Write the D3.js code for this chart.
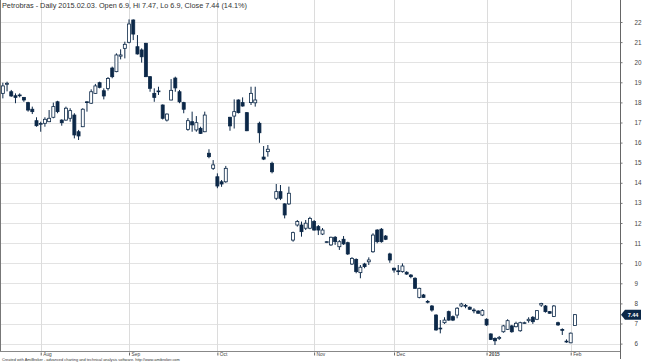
<!DOCTYPE html>
<html>
<head>
<meta charset="utf-8">
<title>Petrobras - Daily</title>
<script src="https://cdn.jsdelivr.net/npm/d3@7"></script>
<style>
  html, body { margin: 0; padding: 0; background: #fff; }
  svg { display: block; font-family: "Liberation Sans", Arial, sans-serif; }
</style>
</head>
<body>
<div id="chart"></div>
<script>
// trading days, by month
var tradingDays = [
  ["2014-07", [21,22,23,24,25,28,29,30,31]],
  ["2014-08", [1,4,5,6,7,8,11,12,13,14,15,18,19,20,21,22,25,26,27,28,29]],
  ["2014-09", [2,3,4,5,8,9,10,11,12,15,16,17,18,19,22,23,24,25,26,29,30]],
  ["2014-10", [1,2,3,6,7,8,9,10,13,14,15,16,17,20,21,22,23,24,27,28,29,30,31]],
  ["2014-11", [3,4,5,6,7,10,11,12,13,14,17,18,19,20,21,24,25,26,28]],
  ["2014-12", [1,2,3,4,5,8,9,10,11,12,15,16,17,18,19,22,23,24,26,29,30,31]],
  ["2015-01", [2,5,6,7,8,9,12,13,14,15,16,20,21,22,23,26,27,28,29,30]],
  ["2015-02", [2,3]]
];

var open = [18.45,18.90,18.53,18.33,18.37,18.25,17.99,17.66,17.09,16.93,
  16.96,17.04,17.26,18.03,17.12,17.12,17.21,17.37,16.54,16.79,
  17.99,17.96,18.45,18.98,18.58,18.69,19.71,19.53,20.30,20.69,
  20.99,22.10,20.77,20.61,20.94,19.28,18.45,18.55,17.87,17.12,
  18.12,19.21,18.53,17.99,16.66,17.04,16.63,16.71,16.54,15.47,
  14.72,14.30,14.05,14.05,17.26,17.32,18.12,17.99,17.49,17.99,
  17.98,16.96,15.28,15.55,14.97,13.23,13.56,12.95,12.95,11.15,
  11.90,11.90,11.74,11.74,12.07,11.82,11.45,11.05,10.91,11.29,
  10.82,11.19,11.02,9.96,10.19,9.53,9.96,10.07,10.57,11.65,
  11.69,11.35,10.46,9.75,9.62,9.58,9.55,9.41,9.25,8.30,
  8.42,8.10,7.87,7.42,6.74,7.04,7.59,7.34,7.42,7.87,
  7.90,7.81,7.66,7.62,7.42,7.21,6.48,6.26,6.26,6.59,
  6.71,6.88,6.84,6.64,7.03,7.14,7.31,7.21,7.92,7.87,
  7.59,7.35,7.04,6.70,6.10,6.04,6.90];
var high = [18.98,19.03,18.62,18.45,18.45,18.27,18.03,17.79,17.26,17.04,
  17.26,17.62,17.99,18.08,17.16,17.79,17.71,17.46,16.63,17.71,
  18.07,18.65,18.92,19.03,18.70,19.26,19.78,20.44,20.64,21.02,
  22.13,22.13,21.35,20.69,20.96,19.30,18.70,18.78,17.90,17.45,
  19.16,19.28,18.62,18.03,17.22,17.54,17.32,16.79,17.54,15.67,
  15.13,14.47,14.14,14.84,17.28,18.15,18.15,18.25,17.52,18.78,
  18.78,17.04,15.83,15.88,15.05,13.94,13.89,12.98,13.81,11.57,
  12.15,12.07,12.15,12.31,12.15,11.90,11.75,11.10,11.32,11.35,
  11.15,11.35,11.07,10.30,10.24,9.91,10.02,10.29,11.49,11.69,
  11.75,11.40,10.52,9.78,9.91,9.99,9.60,9.46,9.30,8.78,
  8.47,8.17,7.92,7.46,7.17,7.31,7.64,7.40,7.81,8.03,
  7.97,7.85,7.76,7.66,7.71,7.26,6.51,6.31,6.38,6.93,
  7.21,6.93,7.09,7.09,7.09,7.31,7.37,7.67,8.03,7.92,
  7.62,7.92,7.09,6.76,6.21,6.55,7.47];
var low = [18.20,18.55,18.28,17.96,18.25,18.03,17.54,17.42,16.79,16.54,
  16.79,17.02,17.21,17.46,16.84,17.09,17.04,16.21,16.13,16.77,
  17.54,17.92,18.43,18.70,18.15,18.59,19.20,19.50,20.14,20.19,
  20.94,21.10,20.38,19.98,19.26,18.53,18.03,18.37,17.15,17.05,
  18.10,18.53,17.96,17.46,16.59,16.54,16.54,16.43,16.52,15.22,
  14.64,13.73,13.80,14.00,16.59,16.70,17.45,17.79,16.57,17.87,
  17.79,15.99,15.13,15.30,14.47,13.14,13.14,12.23,12.90,11.07,
  11.82,11.32,11.65,11.69,11.62,11.40,11.40,11.00,10.86,10.91,
  10.66,10.91,10.41,9.91,9.50,9.25,9.75,9.91,10.52,10.99,
  11.02,11.15,10.02,9.53,9.41,9.53,9.42,9.25,8.72,8.25,
  8.28,8.00,7.59,6.64,6.51,6.98,7.14,7.12,7.26,7.81,
  7.76,7.68,7.51,7.49,7.37,6.88,6.18,5.93,6.18,6.54,
  6.68,6.54,6.81,6.59,6.98,7.04,6.98,7.17,7.83,7.54,
  7.49,7.32,6.88,6.43,6.04,6.02,6.90];
var close = [18.82,18.95,18.32,18.25,18.35,18.12,17.62,17.54,16.84,16.95,
  17.16,17.21,17.79,17.54,16.99,17.71,17.59,16.38,16.33,17.66,
  18.03,18.53,18.82,18.75,18.32,19.19,19.28,20.36,20.36,20.89,
  21.90,21.40,20.41,20.27,19.28,18.70,18.25,18.57,17.21,17.42,
  18.60,18.72,18.03,17.66,17.09,16.88,16.99,16.46,17.37,15.30,
  14.89,13.84,13.94,14.72,16.83,17.54,17.49,17.82,16.59,18.45,
  18.12,16.49,15.18,15.67,14.55,13.56,13.23,12.40,13.48,11.52,
  12.07,11.57,11.99,12.23,11.65,11.65,11.65,11.07,11.29,11.07,
  11.07,10.96,10.46,10.24,9.58,9.80,9.83,10.16,11.40,11.07,
  11.07,11.19,10.16,9.66,9.60,9.86,9.46,9.33,8.75,8.75,
  8.30,8.08,7.67,6.68,6.77,7.17,7.17,7.17,7.76,7.97,
  7.87,7.71,7.67,7.51,7.64,6.93,6.21,6.14,6.31,6.88,
  7.14,6.59,7.01,7.04,7.04,7.21,7.09,7.64,8.00,7.59,
  7.51,7.87,6.93,6.68,6.12,6.52,7.44];

var yTicks = [6,7,8,9,10,11,12,13,14,15,16,17,18,19,20,21,22];
var monthNames = ["Jan","Feb","Mar","Apr","May","Jun","Jul","Aug","Sep","Oct","Nov","Dec"];

var titleText = "Petrobras - Daily 2015.02.03. Open 6.9, Hi 7.47, Lo 6.9, Close 7.44 (14.1%)";
var footerText = "Created with AmiBroker - advanced charting and technical analysis software. http://www.amibroker.com";

var W = 645, H = 363;
var plotRight = 620, plotBottom = 351;
var dark = "#0c2848";

// build bar list
var dates = [];
tradingDays.forEach(function(m) {
  m[1].forEach(function(d) { dates.push(m[0] + "-" + (d < 10 ? "0" + d : d)); });
});
var bars = dates.map(function(d, i) {
  return { date: d, o: open[i], h: high[i], l: low[i], c: close[i] };
});

// first trading day of each month after the first one
var monthStarts = [];
dates.forEach(function(d, i) {
  if (i > 0 && d.slice(0, 7) !== dates[i - 1].slice(0, 7)) monthStarts.push(d);
});

var x = d3.scalePoint().domain(dates).range([2.85, 574.9]);
var y = d3.scaleLinear().domain([6, 22]).range([343.6, 22]);

var svg = d3.select("#chart").append("svg")
  .attr("width", W).attr("height", H);

// grid
svg.append("g").selectAll("line").data(yTicks).enter().append("line")
  .attr("x1", 0).attr("x2", plotRight)
  .attr("y1", function(d) { return Math.round(y(d)) + 0.5; })
  .attr("y2", function(d) { return Math.round(y(d)) + 0.5; })
  .attr("stroke", "#e3e3e3");

svg.append("g").selectAll("line").data(monthStarts).enter().append("line")
  .attr("x1", function(d) { return Math.round(x(d)) + 0.5; })
  .attr("x2", function(d) { return Math.round(x(d)) + 0.5; })
  .attr("y1", 0).attr("y2", plotBottom)
  .attr("stroke", "#dcdcdc");

// frame
svg.append("line").attr("x1", 0.5).attr("x2", 0.5).attr("y1", 0).attr("y2", plotBottom)
  .attr("stroke", "#777");

// right axis
var yAxis = d3.axisRight(y).tickValues(yTicks).tickSize(2).tickPadding(12)
  .tickFormat(d3.format("d"));
var gy = svg.append("g").attr("transform", "translate(" + (plotRight + 0.5) + ",0)").call(yAxis);
gy.select(".domain").attr("stroke", "#666").attr("d", "M0,0V" + (plotBottom + 8));
gy.selectAll(".tick line").attr("stroke", "#777");
gy.selectAll(".tick text").attr("font-size", "6.3px").attr("fill", "#444")
  .attr("font-family", "Liberation Sans, Arial, sans-serif");

// bottom axis
var xAxis = d3.axisBottom(x).tickValues(monthStarts).tickSize(3).tickPadding(0)
  .tickFormat(function(d) {
    var mm = +d.slice(5, 7);
    return mm === 1 ? d.slice(0, 4) : monthNames[mm - 1];
  });
var gx = svg.append("g").attr("transform", "translate(0," + (plotBottom + 0.5) + ")").call(xAxis);
gx.select(".domain").attr("stroke", "#888").attr("d", "M0,0H" + plotRight);
gx.selectAll(".tick line").attr("stroke", "#666").attr("y1", 1).attr("y2", 4);
gx.selectAll(".tick text")
  .attr("text-anchor", "start").attr("x", 2).attr("y", 1).attr("dy", "0.71em")
  .attr("font-size", "4.8px").attr("fill", "#444")
  .attr("font-family", "Liberation Sans, Arial, sans-serif")
  .attr("font-weight", function(d) { return d.slice(5, 7) === "01" ? "bold" : "normal"; });

// candles
var bw = 3;
var candle = svg.append("g").selectAll("g").data(bars).enter().append("g");
candle.append("line")
  .attr("x1", function(d) { return x(d.date); })
  .attr("x2", function(d) { return x(d.date); })
  .attr("y1", function(d) { return y(d.h); })
  .attr("y2", function(d) { return y(d.l); })
  .attr("stroke", dark).attr("stroke-width", 1);
candle.append("rect")
  .attr("x", function(d) { return x(d.date) - bw / 2; })
  .attr("width", bw)
  .attr("y", function(d) { return y(Math.max(d.o, d.c)); })
  .attr("height", function(d) { return Math.max(0.8, Math.abs(y(d.o) - y(d.c))); })
  .attr("fill", function(d) { return d.c >= d.o ? "#fff" : dark; })
  .attr("stroke", dark).attr("stroke-width", 0.8);

// last price tag
var last = bars[bars.length - 1];
var ty = y(last.c);
svg.append("path")
  .attr("d", "M" + (plotRight + 1) + "," + ty + "L" + (plotRight + 5) + "," + (ty - 5) +
    "H" + (plotRight + 21) + "V" + (ty + 5) + "H" + (plotRight + 5) + "Z")
  .attr("fill", dark);
svg.append("text").attr("x", plotRight + 13).attr("y", ty + 2)
  .attr("text-anchor", "middle").attr("font-size", "5.5px").attr("font-weight", "bold")
  .attr("fill", "#fff").text(d3.format(".2f")(last.c));

// title and footer
svg.append("text").attr("x", 2).attr("y", 7.5).attr("font-size", "7.3px")
  .attr("fill", "#333").text(titleText);
svg.append("text").attr("x", 2).attr("y", 361).attr("font-size", "3.9px")
  .attr("fill", "#333").text(footerText);
</script>
</body>
</html>
